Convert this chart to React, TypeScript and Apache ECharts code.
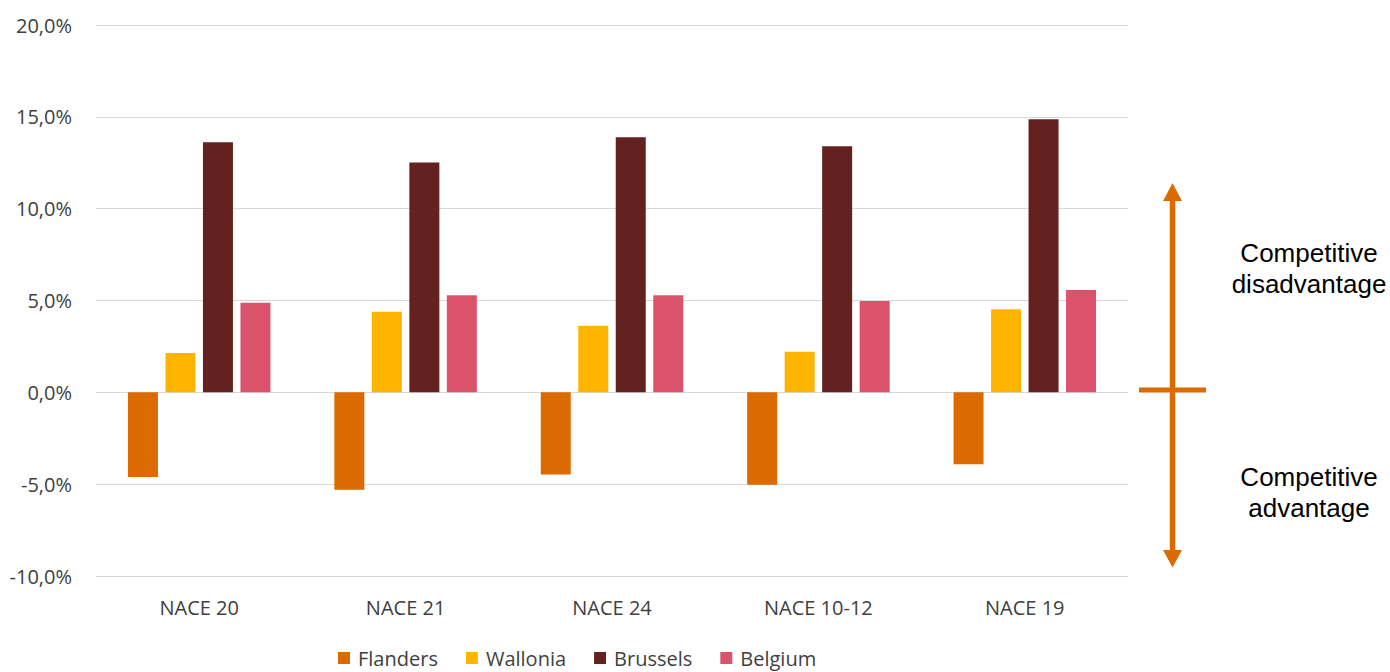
import React, { useEffect, useRef } from "react";
import * as echarts from "echarts";

const categories = ["NACE 20", "NACE 21", "NACE 24", "NACE 10-12", "NACE 19"];
const seriesNames = ["Flanders", "Wallonia", "Brussels", "Belgium"];
const flanders = [-4.61, -5.3, -4.47, -5.03, -3.91];
const wallonia = [2.14, 4.39, 3.63, 2.21, 4.52];
const brussels = [13.62, 12.51, 13.89, 13.4, 14.87];
const belgium = [4.88, 5.28, 5.28, 4.97, 5.57];
const colors = ["#DB6A00", "#FFB500", "#632220", "#DB536B"];
const yMin = -10;
const yMax = 20;
const yStep = 5;
const upperLabel = ["Competitive", "disadvantage"];
const lowerLabel = ["Competitive", "advantage"];

export default function App() {
  const ref = useRef<HTMLDivElement>(null);

  useEffect(() => {
    document.body.style.margin = "0";
    if (!ref.current) return;
    const chart = echarts.init(ref.current, undefined, { renderer: "svg" });
    const values = [flanders, wallonia, brussels, belgium];
    const axisFont = "'Open Sans', sans-serif";
    const annFont = "'Liberation Sans', Arial, sans-serif";
    const arrowColor = "#DB6A00";
    const ax = 1172.5;

    chart.setOption({
      animation: false,
      backgroundColor: "#ffffff",
      grid: { left: 96, right: 262, top: 25, bottom: 96, containLabel: false },
      legend: {
        data: seriesNames,
        left: 338,
        top: 647,
        padding: 0,
        itemWidth: 12,
        itemHeight: 12,
        itemGap: 28,
        icon: "rect",
        textStyle: {
          fontFamily: axisFont,
          fontSize: 20,
          lineHeight: 22,
          color: "#404040",
          padding: [0, 0, 0, 3],
        },
      },
      xAxis: {
        type: "category",
        data: categories,
        axisLine: { show: false },
        axisTick: { show: false },
        axisLabel: {
          fontFamily: axisFont,
          fontSize: 20,
          color: "#404040",
          margin: 21,
        },
        position: "bottom",
      },
      yAxis: {
        type: "value",
        min: yMin,
        max: yMax,
        interval: yStep,
        axisLine: { show: false },
        axisTick: { show: false },
        splitLine: { lineStyle: { color: "#d9d9d9", width: 1 } },
        axisLabel: {
          fontFamily: axisFont,
          fontSize: 20,
          color: "#404040",
          margin: 24,
          formatter: (v: number) => v.toFixed(1).replace(".", ",") + "%",
        },
      },
      series: seriesNames.map((name, i) => ({
        name,
        type: "bar",
        data: values[i],
        barWidth: 30,
        barGap: "25%",
        itemStyle: { color: colors[i] },
      })),
      graphic: [
        {
          type: "line",
          shape: { x1: ax, y1: 195, x2: ax, y2: 556 },
          style: { stroke: arrowColor, lineWidth: 5.5 },
        },
        {
          type: "polygon",
          shape: { points: [[ax, 183], [ax - 9.5, 201], [ax + 9.5, 201]] },
          style: { fill: arrowColor },
        },
        {
          type: "polygon",
          shape: { points: [[ax, 567.5], [ax - 9.5, 550], [ax + 9.5, 550]] },
          style: { fill: arrowColor },
        },
        {
          type: "line",
          shape: { x1: 1139, y1: 390, x2: 1206, y2: 390 },
          style: { stroke: arrowColor, lineWidth: 5 },
        },
        ...upperLabel.map((t, i) => ({
          type: "text",
          x: 1309,
          y: 253 + i * 31,
          style: {
            text: t,
            fill: "#000000",
            font: `26px ${annFont}`,
            align: "center",
            verticalAlign: "middle",
          },
        })),
        ...lowerLabel.map((t, i) => ({
          type: "text",
          x: 1309,
          y: 477 + i * 31,
          style: {
            text: t,
            fill: "#000000",
            font: `26px ${annFont}`,
            align: "center",
            verticalAlign: "middle",
          },
        })),
      ],
    });

    return () => chart.dispose();
  }, []);

  return <div ref={ref} style={{ width: 1390, height: 672 }} />;
}
